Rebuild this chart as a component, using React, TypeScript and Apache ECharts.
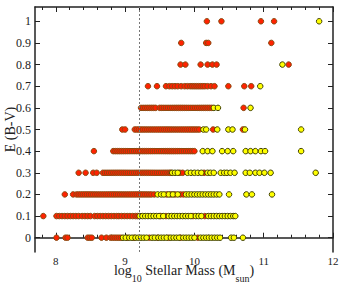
import React, { useEffect, useRef } from "react";
import * as echarts from "echarts";

// Tick values
const xMajorTicks = [8, 9, 10, 11, 12];
const xMinorTicks = [7.8, 8.2, 8.4, 8.6, 8.8, 9.2, 9.4, 9.6, 9.8, 10.2, 10.4, 10.6, 10.8, 11.2, 11.4, 11.6, 11.8];
const yTicks = [0, 0.1, 0.2, 0.3, 0.4, 0.5, 0.6, 0.7, 0.8, 0.9, 1];
const massCut = 9.2;

// Red points: stellar mass values at each E(B-V) level
const red00 = [8.01, 8.14, 8.17, 8.46, 8.49, 8.52, 8.66, 8.73, 8.79, 8.82, 8.85, 8.88, 8.91, 8.94, 9.03, 9.13, 9.35, 9.47, 9.63, 9.8, 10.05];
const red01 = [7.82, 8.01, 8.05, 8.09, 8.13, 8.17, 8.21, 8.25, 8.29, 8.33, 8.38, 8.42, 8.46, 8.5, 8.56, 8.6, 8.64, 8.68, 8.72, 8.76, 8.8, 8.84, 8.88, 8.91, 8.95, 8.99, 9.03, 9.07, 9.11, 9.15, 9.18, 9.51, 9.59, 9.98, 10.15];
const red02 = [8.13, 8.25, 8.3, 8.33, 8.36, 8.39, 8.42, 8.45, 8.48, 8.51, 8.54, 8.57, 8.6, 8.63, 8.66, 8.69, 8.72, 8.75, 8.78, 8.81, 8.84, 8.87, 8.9, 8.93, 8.96, 8.99, 9.02, 9.05, 9.08, 9.11, 9.14, 9.17, 9.2, 9.23, 9.26, 9.29, 9.32, 9.35, 9.38, 9.42, 9.6, 9.66, 9.72, 9.8, 9.84];
const red03 = [8.33, 8.43, 8.54, 8.59, 8.68, 8.71, 8.74, 8.77, 8.8, 8.83, 8.86, 8.89, 8.92, 8.95, 8.98, 9.01, 9.04, 9.07, 9.1, 9.13, 9.16, 9.19, 9.22, 9.25, 9.28, 9.31, 9.34, 9.37, 9.4, 9.43, 9.46, 9.49, 9.52, 9.55, 9.58, 9.61, 9.64, 9.66, 9.79, 9.83, 10.14];
const red04 = [8.55, 8.83, 8.86, 8.89, 8.92, 8.95, 8.98, 9.01, 9.04, 9.07, 9.1, 9.13, 9.16, 9.19, 9.22, 9.25, 9.28, 9.31, 9.34, 9.37, 9.4, 9.43, 9.46, 9.49, 9.52, 9.55, 9.58, 9.61, 9.64, 9.67, 9.7, 9.73, 9.76, 9.79, 9.82, 9.85, 9.88, 9.91, 9.94, 9.97, 10.0];
const red05 = [8.96, 9.0, 9.14, 9.17, 9.2, 9.23, 9.26, 9.29, 9.32, 9.35, 9.38, 9.41, 9.44, 9.47, 9.5, 9.53, 9.56, 9.59, 9.62, 9.65, 9.68, 9.71, 9.74, 9.77, 9.8, 9.83, 9.86, 9.89, 9.92, 9.95, 9.98, 10.01, 10.04, 10.07, 10.27, 10.7];
const red06 = [9.23, 9.26, 9.29, 9.32, 9.35, 9.38, 9.41, 9.44, 9.5, 9.53, 9.56, 9.59, 9.62, 9.65, 9.68, 9.71, 9.74, 9.77, 9.8, 9.83, 9.86, 9.89, 9.92, 9.95, 9.98, 10.01, 10.04, 10.07, 10.1, 10.13, 10.16, 10.19, 10.22, 10.25, 10.71];
const red07 = [9.33, 9.46, 9.59, 9.64, 9.68, 9.72, 9.76, 9.81, 9.86, 9.9, 9.94, 9.97, 10.0, 10.03, 10.06, 10.09, 10.12, 10.15, 10.19, 10.24, 10.29, 10.49, 10.72, 10.82];
const red08 = [9.8, 9.87, 10.09, 10.19, 10.26, 10.32, 11.36];
const red09 = [9.81, 10.17, 10.2, 11.11];
const red10 = [10.18, 10.39, 10.96, 11.15];

// Yellow points: stellar mass values at each E(B-V) level
const yel00 = [8.97, 9.01, 9.06, 9.1, 9.15, 9.19, 9.23, 9.27, 9.31, 9.39, 9.43, 9.48, 9.52, 9.56, 9.6, 9.66, 9.7, 9.74, 9.78, 9.84, 9.88, 9.92, 9.96, 10.0, 10.09, 10.13, 10.17, 10.21, 10.25, 10.29, 10.33, 10.37, 10.53, 10.57, 10.7];
const yel01 = [9.21, 9.25, 9.29, 9.33, 9.37, 9.41, 9.45, 9.49, 9.55, 9.63, 9.67, 9.71, 9.75, 9.79, 9.83, 9.87, 9.91, 9.95, 10.02, 10.06, 10.1, 10.2, 10.24, 10.28, 10.32, 10.36, 10.4, 10.44, 10.48, 10.52, 10.56, 10.59];
const yel02 = [9.47, 9.52, 9.56, 9.63, 9.69, 9.76, 9.88, 9.92, 9.96, 10.0, 10.04, 10.08, 10.12, 10.16, 10.2, 10.24, 10.28, 10.32, 10.36, 10.5, 10.75, 10.83, 11.12];
const yel03 = [9.68, 9.72, 9.76, 9.9, 9.95, 10.0, 10.05, 10.1, 10.19, 10.23, 10.28, 10.38, 10.43, 10.47, 10.52, 10.58, 10.74, 10.8, 10.88, 10.94, 11.01, 11.1, 11.75];
const yel04 = [10.12, 10.19, 10.26, 10.4, 10.48, 10.56, 10.74, 10.81, 10.88, 10.96, 11.02, 11.54];
const yel05 = [10.13, 10.17, 10.33, 10.49, 10.55, 10.73, 11.54];
const yel06 = [10.28, 10.34, 10.81];
const yel07 = [10.95];
const yel08 = [11.27];
const yel09: number[] = [];
const yel10 = [11.8];

const ebvLevels = [0, 0.1, 0.2, 0.3, 0.4, 0.5, 0.6, 0.7, 0.8, 0.9, 1.0];
const redRows = [red00, red01, red02, red03, red04, red05, red06, red07, red08, red09, red10];
const yelRows = [yel00, yel01, yel02, yel03, yel04, yel05, yel06, yel07, yel08, yel09, yel10];

function toPoints(rows: number[][]) {
  const out: number[][] = [];
  rows.forEach((row, i) => row.forEach((m) => out.push([m, ebvLevels[i]])));
  return out;
}

const SERIF = "Liberation Serif";
const AXIS_COLOR = "#222";

export default function App() {
  const ref = useRef<HTMLDivElement>(null);
  useEffect(() => {
    if (!ref.current) return;
    const chart = echarts.init(ref.current, undefined, { renderer: "svg" });

    const canvas = document.createElement("canvas");
    const ctx = canvas.getContext("2d")!;
    const measure = (t: string, size: number) => {
      ctx.font = `${size}px ${SERIF}`;
      return ctx.measureText(t).width;
    };

    // x-axis title with subscripts
    const pieces: [string, number, boolean][] = [
      ["log", 14, false],
      ["10", 10, true],
      [" Stellar Mass (M", 14, false],
      ["sun", 10, true],
      [")", 14, false],
    ];
    const total = pieces.reduce((s, p) => s + measure(p[0], p[1]), 0);
    let cx = 184 - total / 2;
    const titleTexts: any[] = pieces.map(([t, size, sub]) => {
      const el = {
        type: "text",
        x: cx,
        y: sub ? 278.5 : 270.5,
        style: { text: t, fontFamily: SERIF, fontSize: size, fill: AXIS_COLOR, textAlign: "left", verticalAlign: "middle" },
      };
      cx += measure(t, size);
      return el;
    });
    // y-axis title
    titleTexts.push({
      type: "text",
      x: 10,
      y: 129.5,
      rotation: Math.PI / 2,
      style: { text: "E (B-V)", fontFamily: SERIF, fontSize: 14, fill: AXIS_COLOR, textAlign: "center", verticalAlign: "middle" },
    });

    const axisLine = { show: true, lineStyle: { color: AXIS_COLOR, width: 1.5 } };
    const tickStyle = { color: AXIS_COLOR, width: 1 };

    const option: any = {
      animation: false,
      grid: { left: 35, right: 9, top: 7, bottom: 33, containLabel: false, outerBoundsMode: "none" },
      xAxis: [
        {
          type: "value", min: 7.7, max: 12, position: "bottom",
          axisLine,
          axisTick: { show: true, inside: true, length: 5, customValues: xMajorTicks, lineStyle: tickStyle },
          axisLabel: { show: true, customValues: xMajorTicks, fontFamily: SERIF, fontSize: 11, lineHeight: 11, color: AXIS_COLOR, margin: 3 },
          splitLine: { show: false },
        },
        {
          type: "value", min: 7.7, max: 12, position: "bottom",
          axisLine: { show: false },
          axisTick: { show: true, inside: true, length: 3, customValues: xMinorTicks, lineStyle: tickStyle },
          axisLabel: { show: false },
          splitLine: { show: false },
        },
        {
          type: "value", min: 7.7, max: 12, position: "top",
          axisLine,
          axisTick: { show: true, inside: true, length: 5, customValues: xMajorTicks, lineStyle: tickStyle },
          axisLabel: { show: false },
          splitLine: { show: false },
        },
        {
          type: "value", min: 7.7, max: 12, position: "top",
          axisLine: { show: false },
          axisTick: { show: true, inside: true, length: 3, customValues: xMinorTicks, lineStyle: tickStyle },
          axisLabel: { show: false },
          splitLine: { show: false },
        },
      ],
      yAxis: [
        {
          type: "value", min: -0.066, max: 1.066, position: "left",
          axisLine,
          axisTick: { show: true, inside: true, length: 5, customValues: yTicks, lineStyle: tickStyle },
          axisLabel: {
            show: true, customValues: yTicks, fontFamily: SERIF, fontSize: 12, color: AXIS_COLOR, margin: 4,
            formatter: (v: number) => String(Math.round(v * 10) / 10),
          },
          splitLine: { show: false },
        },
        {
          type: "value", min: -0.066, max: 1.066, position: "right",
          axisLine,
          axisTick: { show: true, inside: true, length: 5, customValues: yTicks, lineStyle: tickStyle },
          axisLabel: { show: false },
          splitLine: { show: false },
        },
      ],
      graphic: titleTexts,
      series: [
        {
          type: "scatter",
          name: "cut",
          data: [],
          silent: true,
          markLine: {
            silent: true,
            symbol: ["none", "none"],
            label: { show: false },
            lineStyle: { color: "#777", width: 1, type: [2, 2] },
            data: [{ xAxis: massCut }],
          },
        },
        {
          type: "scatter",
          name: "red",
          data: toPoints(redRows),
          symbol: "circle",
          symbolSize: 5.5,
          itemStyle: { color: "#ff2200", borderColor: "#8a4a10", borderWidth: 1, opacity: 1 },
        },
        {
          type: "scatter",
          name: "yellow",
          data: toPoints(yelRows),
          symbol: "circle",
          symbolSize: 5.5,
          itemStyle: { color: "#ffff00", borderColor: "#404000", borderWidth: 1, opacity: 1 },
        },
      ],
    };
    chart.setOption(option);
    return () => chart.dispose();
  }, []);

  return (
    <div
      ref={ref}
      style={{ position: "fixed", left: 0, top: 0, width: 342, height: 285, background: "#fff" }}
    />
  );
}
